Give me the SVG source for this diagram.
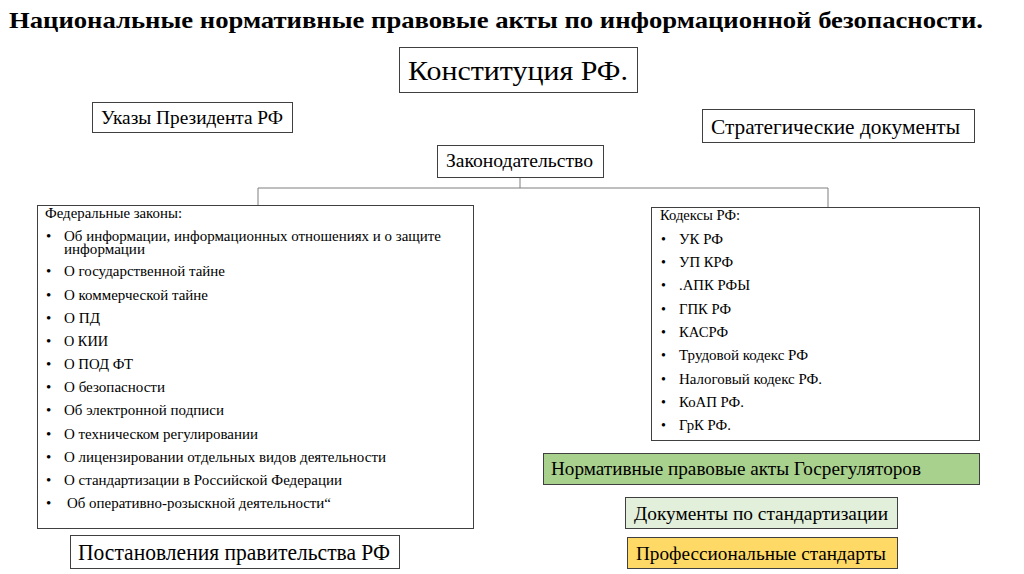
<svg xmlns="http://www.w3.org/2000/svg" width="1024" height="574" viewBox="0 0 1024 574">
<style>
.box{fill:#fff;stroke:#404040;stroke-width:1}
.conn{fill:none;stroke:#7f7f7f;stroke-width:1}
</style>
<rect width="1024" height="574" fill="#fff"/>
<text font-family="'Liberation Serif'" x="9" y="28" font-size="24" font-weight="bold" textLength="974" lengthAdjust="spacingAndGlyphs">Национальные нормативные правовые акты по информационной безопасности.</text>
<g id="connectors">
<path class="conn" d="M520 178V188M258 205V188H828V208"/>
</g>
<g id="constitution">
<rect class="box" x="399.5" y="47.5" width="238" height="45"/>
<text font-family="'Liberation Serif'" x="408" y="80" font-size="27" textLength="220" lengthAdjust="spacingAndGlyphs">Конституция РФ.</text>
</g>
<g id="ukazy">
<rect class="box" x="92.5" y="102.5" width="200" height="30"/>
<text font-family="'Liberation Serif'" x="101" y="124" font-size="19" textLength="182" lengthAdjust="spacingAndGlyphs">Указы Президента РФ</text>
</g>
<g id="strategic">
<rect class="box" x="702.5" y="109.5" width="272" height="33"/>
<text font-family="'Liberation Serif'" x="711" y="134" font-size="21" textLength="249" lengthAdjust="spacingAndGlyphs">Стратегические документы</text>
</g>
<g id="legislation">
<rect class="box" x="437.5" y="145.5" width="166" height="32"/>
<text font-family="'Liberation Serif'" x="446" y="167" font-size="18" textLength="147" lengthAdjust="spacingAndGlyphs">Законодательство</text>
</g>
<g id="federal-laws">
<rect class="box" x="37.5" y="205.5" width="436" height="323"/>
<text font-family="'Liberation Serif'" x="45" y="218" font-size="14" textLength="137" lengthAdjust="spacingAndGlyphs">Федеральные законы:</text>
<text font-family="'Liberation Serif'" font-size="15" x="46" y="241">•</text><text font-family="'Liberation Serif'" font-size="15" x="64" y="241" textLength="377" lengthAdjust="spacingAndGlyphs">Об информации, информационных отношениях и о защите</text>
<text font-family="'Liberation Serif'" font-size="15" x="64" y="254" textLength="81" lengthAdjust="spacingAndGlyphs">информации</text>
<text font-family="'Liberation Serif'" font-size="15" x="46" y="276">•</text><text font-family="'Liberation Serif'" font-size="15" x="64" y="276" textLength="161" lengthAdjust="spacingAndGlyphs">О государственной тайне</text>
<text font-family="'Liberation Serif'" font-size="15" x="46" y="300">•</text><text font-family="'Liberation Serif'" font-size="15" x="64" y="300" textLength="144" lengthAdjust="spacingAndGlyphs">О коммерческой тайне</text>
<text font-family="'Liberation Serif'" font-size="15" x="46" y="323">•</text><text font-family="'Liberation Serif'" font-size="15" x="64" y="323" textLength="36" lengthAdjust="spacingAndGlyphs">О ПД</text>
<text font-family="'Liberation Serif'" font-size="15" x="46" y="346">•</text><text font-family="'Liberation Serif'" font-size="15" x="64" y="346" textLength="44" lengthAdjust="spacingAndGlyphs">О КИИ</text>
<text font-family="'Liberation Serif'" font-size="15" x="46" y="369">•</text><text font-family="'Liberation Serif'" font-size="15" x="64" y="369" textLength="69" lengthAdjust="spacingAndGlyphs">О ПОД ФТ</text>
<text font-family="'Liberation Serif'" font-size="15" x="46" y="392">•</text><text font-family="'Liberation Serif'" font-size="15" x="64" y="392" textLength="101" lengthAdjust="spacingAndGlyphs">О безопасности</text>
<text font-family="'Liberation Serif'" font-size="15" x="46" y="415">•</text><text font-family="'Liberation Serif'" font-size="15" x="64" y="415" textLength="160" lengthAdjust="spacingAndGlyphs">Об электронной подписи</text>
<text font-family="'Liberation Serif'" font-size="15" x="46" y="439">•</text><text font-family="'Liberation Serif'" font-size="15" x="64" y="439" textLength="194" lengthAdjust="spacingAndGlyphs">О техническом регулировании</text>
<text font-family="'Liberation Serif'" font-size="15" x="46" y="462">•</text><text font-family="'Liberation Serif'" font-size="15" x="64" y="462" textLength="322" lengthAdjust="spacingAndGlyphs">О лицензировании отдельных видов деятельности</text>
<text font-family="'Liberation Serif'" font-size="15" x="46" y="485">•</text><text font-family="'Liberation Serif'" font-size="15" x="64" y="485" textLength="278" lengthAdjust="spacingAndGlyphs">О стандартизации в Российской Федерации</text>
<text font-family="'Liberation Serif'" font-size="15" x="46" y="508">•</text><text font-family="'Liberation Serif'" font-size="15" x="67" y="508" textLength="264" lengthAdjust="spacingAndGlyphs">Об оперативно-розыскной деятельности“</text>
</g>
<g id="government">
<rect class="box" x="70.5" y="535.5" width="329" height="33"/>
<text font-family="'Liberation Serif'" x="78" y="560" font-size="23" textLength="312" lengthAdjust="spacingAndGlyphs">Постановления правительства РФ</text>
</g>
<g id="codes">
<rect class="box" x="651.5" y="207.5" width="328" height="233"/>
<text font-family="'Liberation Serif'" x="660" y="220" font-size="14" textLength="80" lengthAdjust="spacingAndGlyphs">Кодексы РФ:</text>
<text font-family="'Liberation Serif'" font-size="14" x="661" y="244">•</text><text font-family="'Liberation Serif'" font-size="14" x="679" y="244" textLength="44" lengthAdjust="spacingAndGlyphs">УК РФ</text>
<text font-family="'Liberation Serif'" font-size="14" x="661" y="267">•</text><text font-family="'Liberation Serif'" font-size="14" x="679" y="267" textLength="54" lengthAdjust="spacingAndGlyphs">УП КРФ</text>
<text font-family="'Liberation Serif'" font-size="14" x="661" y="290">•</text><text font-family="'Liberation Serif'" font-size="14" x="679" y="290" textLength="71" lengthAdjust="spacingAndGlyphs">.АПК РФЫ</text>
<text font-family="'Liberation Serif'" font-size="14" x="661" y="314">•</text><text font-family="'Liberation Serif'" font-size="14" x="679" y="314" textLength="52" lengthAdjust="spacingAndGlyphs">ГПК РФ</text>
<text font-family="'Liberation Serif'" font-size="14" x="661" y="337">•</text><text font-family="'Liberation Serif'" font-size="14" x="679" y="337" textLength="49" lengthAdjust="spacingAndGlyphs">КАСРФ</text>
<text font-family="'Liberation Serif'" font-size="14" x="661" y="360">•</text><text font-family="'Liberation Serif'" font-size="14" x="679" y="360" textLength="129" lengthAdjust="spacingAndGlyphs">Трудовой кодекс РФ</text>
<text font-family="'Liberation Serif'" font-size="14" x="661" y="384">•</text><text font-family="'Liberation Serif'" font-size="14" x="679" y="384" textLength="143" lengthAdjust="spacingAndGlyphs">Налоговый кодекс РФ.</text>
<text font-family="'Liberation Serif'" font-size="14" x="661" y="407">•</text><text font-family="'Liberation Serif'" font-size="14" x="679" y="407" textLength="65" lengthAdjust="spacingAndGlyphs">КоАП РФ.</text>
<text font-family="'Liberation Serif'" font-size="14" x="661" y="430">•</text><text font-family="'Liberation Serif'" font-size="14" x="679" y="430" textLength="52" lengthAdjust="spacingAndGlyphs">ГрК РФ.</text>
</g>
<g id="regulators">
<rect x="543.5" y="453.5" width="436" height="31" fill="#a9d18e" stroke="#404040"/>
<text font-family="'Liberation Serif'" x="551" y="475" font-size="19" textLength="370" lengthAdjust="spacingAndGlyphs">Нормативные правовые акты Госрегуляторов</text>
</g>
<g id="standardization">
<rect x="625.5" y="497.5" width="272" height="31" fill="#e2efda" stroke="#404040"/>
<text font-family="'Liberation Serif'" x="634" y="520" font-size="19" textLength="254" lengthAdjust="spacingAndGlyphs">Документы по стандартизации</text>
</g>
<g id="professional">
<rect x="627.5" y="537.5" width="270" height="31" fill="#ffd966" stroke="#404040"/>
<text font-family="'Liberation Serif'" x="636" y="560" font-size="19" textLength="250" lengthAdjust="spacingAndGlyphs">Профессиональные стандарты</text>
</g>
</svg>
